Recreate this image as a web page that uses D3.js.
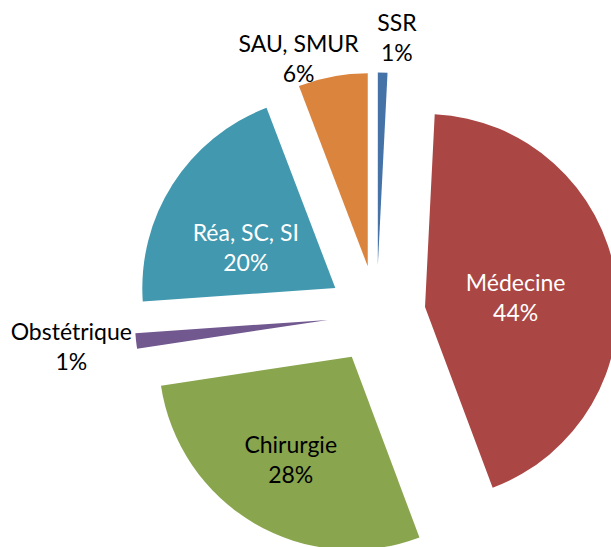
<!DOCTYPE html>
<html>
<head>
<meta charset="utf-8">
<script src="https://cdn.jsdelivr.net/npm/d3@7"></script>
<style>
  body { margin: 0; background: #fff; }
  text { font-family: Lato, "Open Sans", sans-serif; }
</style>
</head>
<body>
<script>
// data (share of total, in %)
const categories = ['SSR', 'Médecine', 'Chirurgie', 'Obstétrique', 'Réa, SC, SI', 'SAU, SMUR']
const values = [0.8, 43.5, 28.3, 1.3, 20.3, 5.8]
const percentLabels = ['1%', '44%', '28%', '1%', '20%', '6%']
const colors = ['#4572a7', '#aa4643', '#89a54e', '#71588f', '#4198af', '#db843d']
const labelColors = ['#000', '#fff', '#000', '#000', '#fff', '#000']

// label placement: distance from slice tip and angle (degrees, clockwise from 12 o'clock)
const labelPlace = [
  {r: 228, a: 4.8},
  {r: 91, a: 84.6},
  {r: 120, a: 210.6},
  {r: 258, a: 264},
  {r: 98, a: 294},
  {r: 219, a: 341.6}
]

const width = 611, height = 547
const cx = 376.6, cy = 314.5
const radius = 193
const explode = 49

const svg = d3.select('body').append('svg')
    .attr('width', width)
    .attr('height', height)

const data = categories.map((c, i) => ({name: c, value: values[i], pct: percentLabels[i], i: i}))

const pie = d3.pie()
    .sort(null)
    .value(d => d.value)

const arc = d3.arc()
    .innerRadius(0)
    .outerRadius(radius)

const arcs = pie(data)

const g = svg.append('g')
    .attr('transform', 'translate(' + cx + ',' + cy + ')')

// each slice pulled out along its bisector
function offset(d) {
  const mid = (d.startAngle + d.endAngle) / 2
  return [explode * Math.sin(mid), -explode * Math.cos(mid)]
}

const slices = g.selectAll('.slice')
    .data(arcs)
    .enter().append('g')
    .attr('class', 'slice')
    .attr('transform', d => {
      const o = offset(d)
      return 'translate(' + o[0] + ',' + o[1] + ')'
    })

slices.append('path')
    .attr('d', arc)
    .attr('fill', d => colors[d.data.i])

// labels
const labels = slices.append('text')
    .attr('text-anchor', 'middle')
    .attr('font-size', 23)
    .attr('fill', d => labelColors[d.data.i])
    .attr('transform', d => {
      const p = labelPlace[d.data.i]
      const a = p.a * Math.PI / 180
      return 'translate(' + (p.r * Math.sin(a)) + ',' + (-p.r * Math.cos(a)) + ')'
    })

labels.append('tspan')
    .attr('x', 0)
    .attr('y', -7)
    .text(d => d.data.name)

labels.append('tspan')
    .attr('x', 0)
    .attr('y', 23)
    .text(d => d.data.pct)
</script>
</body>
</html>
